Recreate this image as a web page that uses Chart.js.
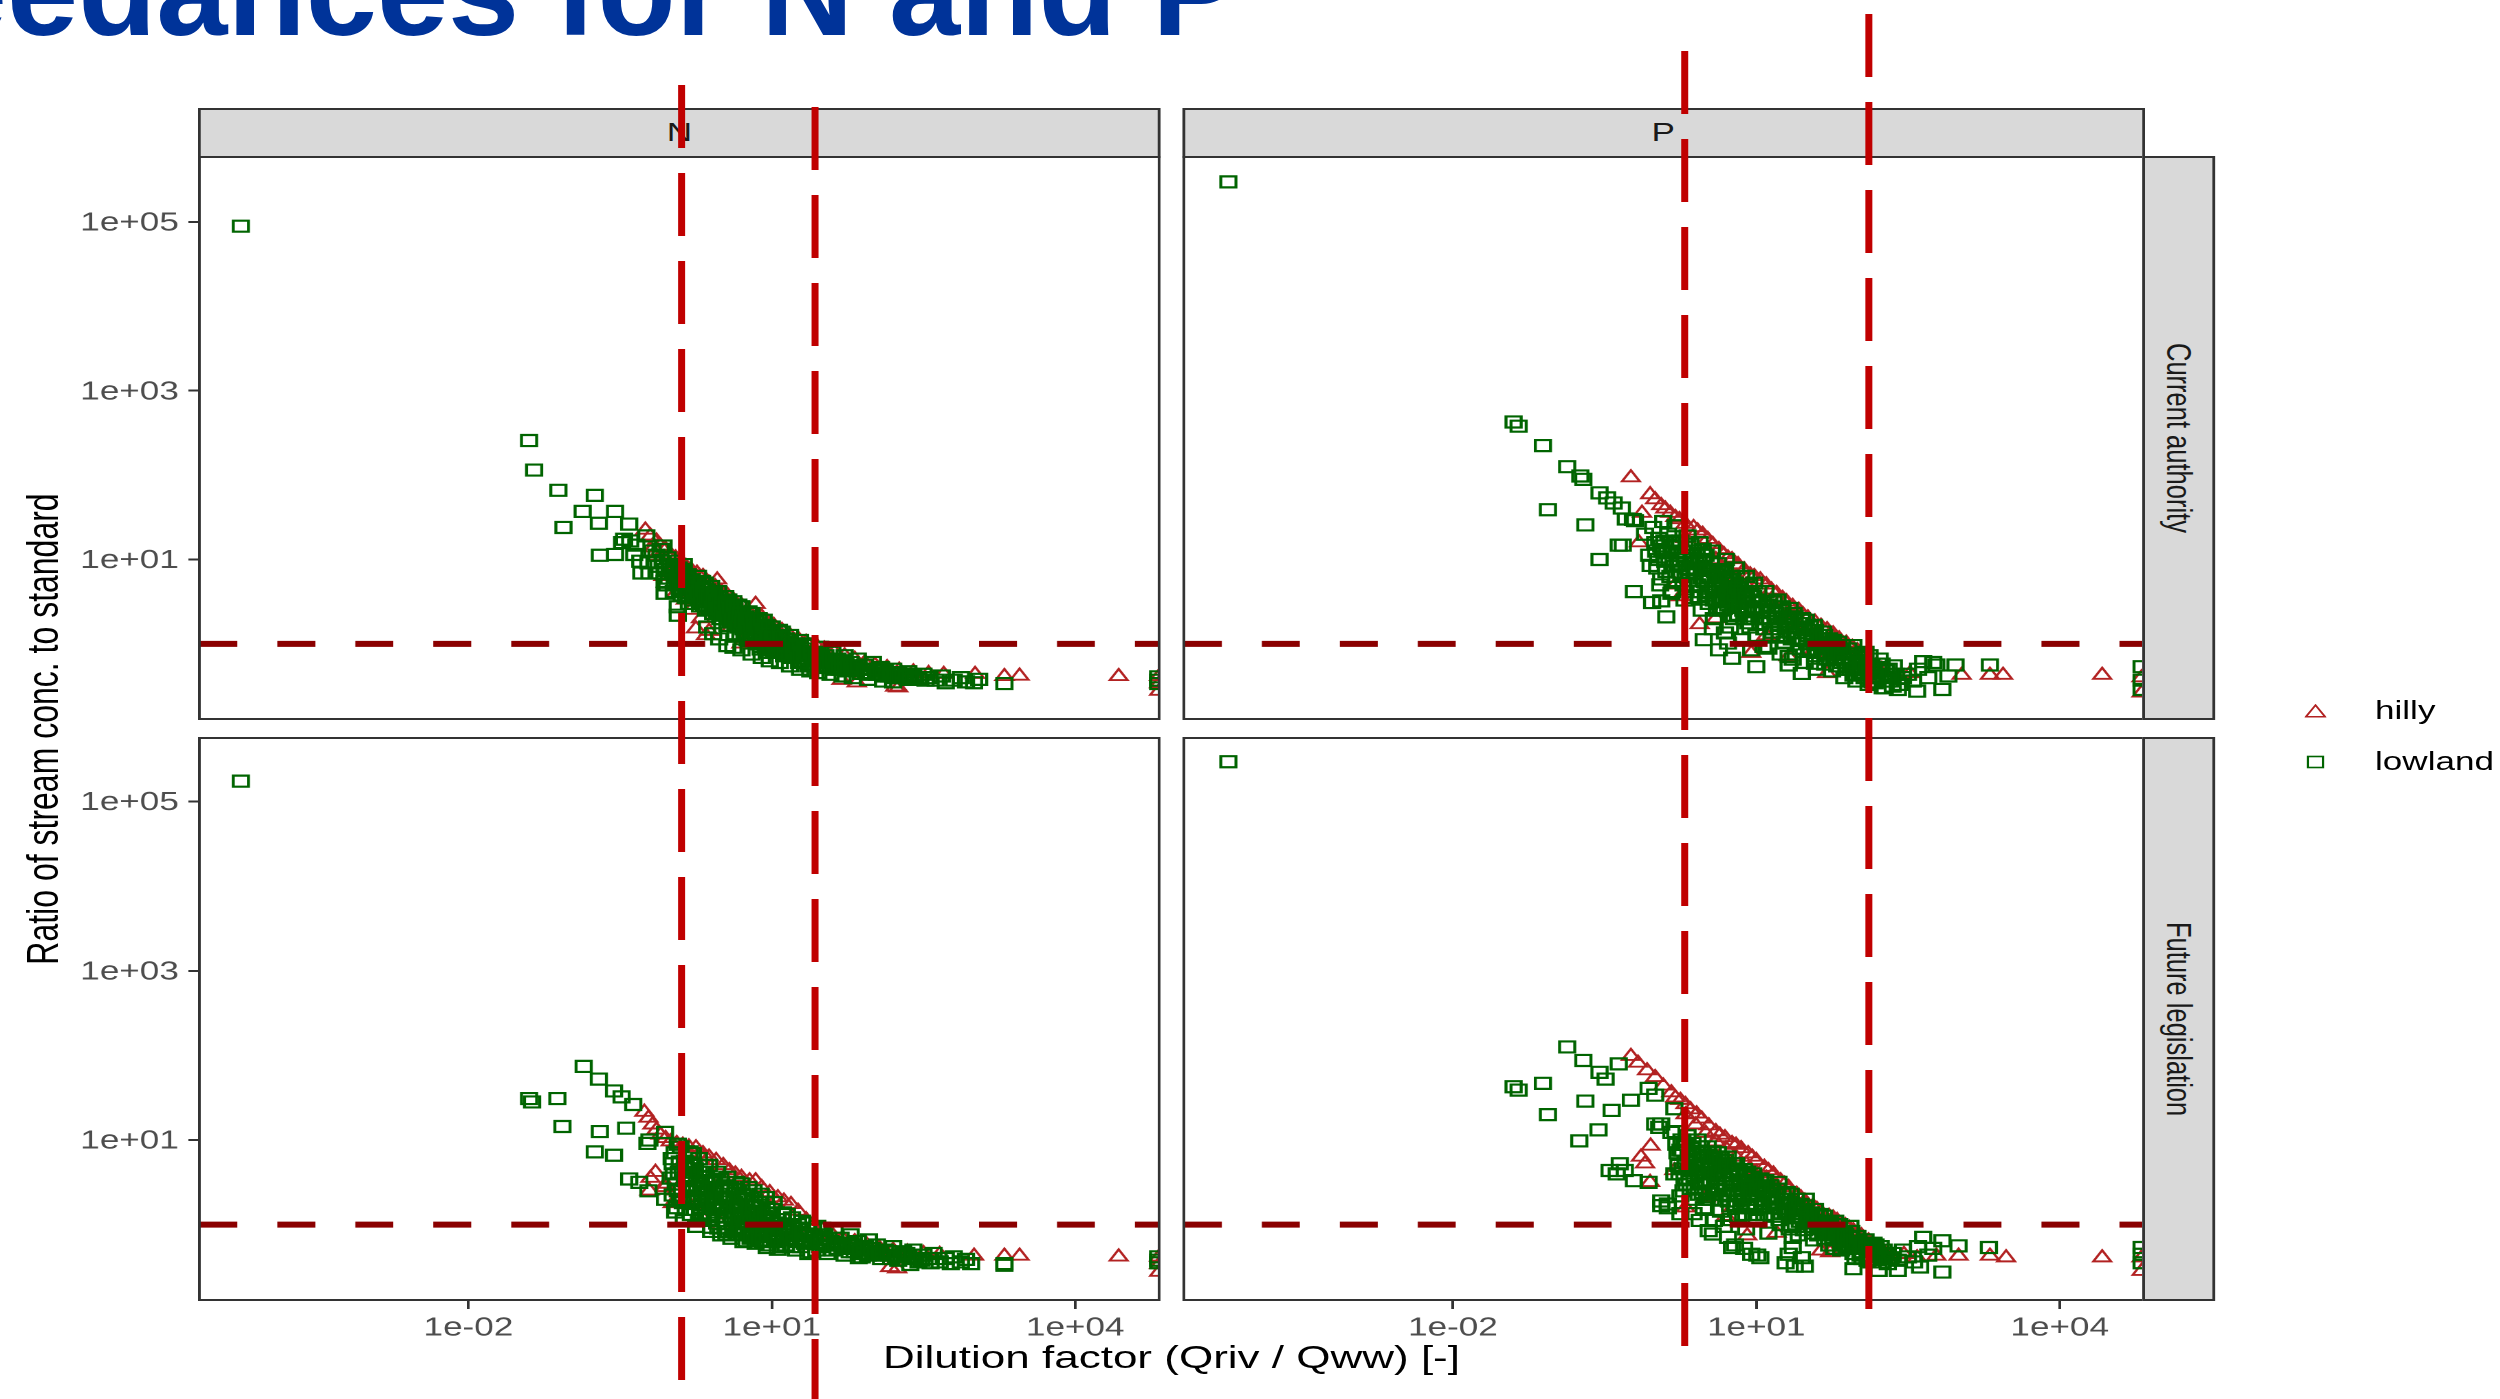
<!DOCTYPE html>
<html>
<head>
<meta charset="utf-8">
<script src="https://cdn.jsdelivr.net/npm/chart.js@4.4.1/dist/chart.umd.min.js"></script>
<style>
  html, body { margin: 0; padding: 0; background: #ffffff; }
  body { width: 2500px; height: 1399px; position: relative; overflow: hidden;
         font-family: "Liberation Sans", Arial, sans-serif; }
  #title { position: absolute; left: -292px; top: -73px; font-size: 128px; line-height: 1;
           font-weight: bold; color: #003399; white-space: nowrap; }
  /* the figure is laid out narrow and stretched sideways */
  #fig { position: absolute; left: 0; top: 0; width: 1819px; height: 1399px;
         transform: scaleX(1.375); transform-origin: 0 0; }
  #fig canvas { position: absolute; }
  .strip { position: absolute; box-sizing: border-box; background: #d9d9d9; border: 2px solid #333333;
           color: #1a1a1a; font-size: 25.5px; line-height: 1; display: flex;
           align-items: center; justify-content: center; white-space: nowrap; }
  .strip.side span { writing-mode: vertical-rl; }
  .axis-title { position: absolute; font-size: 32px; line-height: 1; color: #000000; white-space: nowrap; }
  #ytitle { left: 31px; top: 729px; transform: translate(-50%, -50%) rotate(-90deg); }
  #xtitle { left: 852px; top: 1341px; transform: translateX(-50%); }
  .legend-key { position: absolute; }
  .legend-text { position: absolute; font-size: 25.5px; line-height: 1; color: #000000; white-space: nowrap; }
  #marks { position: absolute; left: 0; top: 0; pointer-events: none; }
</style>
</head>
<body>
<div id="title">Exceedances for N and P</div>
<div id="fig">
  <div class="axis-title" id="ytitle">Ratio of stream conc. to standard</div>
  <div class="axis-title" id="xtitle">Dilution factor (Qriv / Qww) [-]</div>
</div>
<canvas id="marks" width="2500" height="1399"></canvas>
<script>
// ---- data -------------------------------------------------------------
const elements = ['N', 'P'];
const scenarios = ['Current authority', 'Future legislation'];
const regions = ['hilly', 'lowland'];

const xTickValues = [1e-2, 1e1, 1e4];
const xTickLabels = ['1e-02', '1e+01', '1e+04'];
const yTickValues = [1e1, 1e3, 1e5];
const yTickLabels = ['1e+01', '1e+03', '1e+05'];

// concentration equal to the standard
const standardRatio = 1;
// dilution factors marked with the red dashed verticals
const nLimits = [1.28, 26.7];
const pLimits = [1.98, 131];

// each pair is [log10 dilution factor, log10 ratio to standard]
const nCurrentLowland = [
  [-4.25,4.95],
  [-1.40,2.41],[-1.35,2.06],[-1.11,1.82],[-0.75,1.76],[-0.87,1.57],[-0.55,1.57],[-0.71,1.43],[-0.41,1.42],[-1.06,1.38],
  [-0.70,1.05],[-0.55,1.06],[-0.48,1.20],[-0.46,1.24],[-0.40,1.22],[-0.36,1.06],[-0.34,1.17],[-0.29,0.84],[-0.21,0.84],
  [-0.22,0.96],[-0.24,1.28],[-0.07,1.16],[-0.06,0.60],[0.07,0.44],[0.07,0.34],[0.56,-0.02],[-0.06,0.74],[-0.30,0.98],
  [-0.18,1.10],[-0.14,1.05],[-0.12,0.92],[-0.10,1.12],[-0.08,0.98],[-0.05,0.88],[-0.03,1.02],[-0.02,0.78],[0.00,0.94],
  [0.02,0.85],[0.04,0.72],[0.05,0.98],[0.08,0.90],[0.09,0.66],[0.10,0.80],[0.12,0.86],
  [0.14,0.74],[0.15,0.55],[0.17,0.82],[0.19,0.66],[0.21,0.76],[0.22,0.52],[0.24,0.70],[0.25,0.60],[0.27,0.80],[0.29,0.45],
  [0.30,0.66],[0.32,0.56],[0.34,0.72],[0.35,0.40],[0.37,0.60],[0.39,0.50],[0.40,0.68],[0.42,0.36],[0.44,0.55],[0.45,0.45],
  [0.47,0.62],[0.49,0.30],[0.50,0.50],[0.36,0.20],[0.42,0.12],[0.48,0.06],
  [0.52,0.40],[0.54,0.56],[0.56,0.22],[0.58,0.45],[0.60,0.34],[0.62,0.50],[0.64,0.12],[0.66,0.38],[0.68,0.28],[0.70,0.44],
  [0.72,0.18],[0.74,0.32],[0.76,0.05],[0.78,0.24],[0.80,0.36],[0.82,0.14],[0.84,0.26],[0.86,0.00],[0.88,0.18],[0.90,0.08],
  [0.92,0.28],[0.94,-0.04],[0.96,0.14],[0.98,0.04],[1.00,0.20],[0.62,-0.04],[0.70,-0.07],[0.80,-0.12],[0.90,-0.16],[0.98,-0.20],
  [1.02,-0.08],[1.04,0.10],[1.06,-0.10],[1.08,0.02],[1.10,0.14],[1.12,-0.14],[1.14,0.06],[1.16,-0.04],[1.18,0.10],[1.20,-0.16],
  [1.22,0.00],[1.25,-0.08],[1.28,0.04],[1.30,-0.20],[1.32,-0.06],[1.35,-0.14],[1.37,0.00],[1.40,-0.24],[1.42,-0.10],[1.45,-0.18],
  [1.48,-0.04],[1.08,-0.22],[1.18,-0.26],[1.28,-0.30],[1.38,-0.32],[1.46,-0.34],
  [1.50,-0.28],[1.53,-0.14],[1.56,-0.22],[1.60,-0.10],[1.62,-0.30],[1.65,-0.18],[1.68,-0.25],[1.72,-0.14],[1.75,-0.32],[1.78,-0.22],
  [1.82,-0.28],[1.85,-0.18],[1.88,-0.35],[1.92,-0.25],[1.96,-0.30],[2.00,-0.22],[1.58,-0.36],[1.70,-0.38],[1.80,-0.40],[1.95,-0.42],
  [2.04,-0.36],[2.08,-0.28],[2.12,-0.32],[2.16,-0.38],[2.20,-0.30],[2.25,-0.35],[2.30,-0.40],[2.35,-0.33],[2.40,-0.38],[2.45,-0.42],
  [2.50,-0.36],[2.56,-0.40],[2.62,-0.43],[2.68,-0.38],[2.72,-0.46],[2.80,-0.43],[2.87,-0.40],[2.92,-0.45],[3.00,-0.46],[3.05,-0.42],
  [2.10,-0.44],[2.20,-0.45],[3.30,-0.47],[4.82,-0.39],[4.82,-0.47],[4.82,-0.43],
  [-0.16,0.96],[-0.11,0.84],[-0.04,0.70],[0.03,0.62],[0.06,0.80],[0.11,0.58],[0.13,0.94],[0.16,0.68],[0.18,0.48],[0.23,0.62],
  [0.26,0.72],[0.28,0.52],[0.31,0.74],[0.33,0.46],[0.36,0.64],[0.38,0.42],[0.41,0.58],[0.43,0.48],[0.46,0.38],[0.48,0.55],
  [0.51,0.30],[0.53,0.46],[0.55,0.36],[0.57,0.52],[0.59,0.26],[0.61,0.42],[0.63,0.30],[0.65,0.22],[0.67,0.46],[0.69,0.10],
  [0.71,0.34],[0.73,0.24],[0.75,0.14],[0.77,0.38],[0.79,0.04],[0.81,0.26],[0.83,0.18],[0.85,0.08],[0.87,0.30],[0.89,-0.06],
  [0.91,0.18],[0.93,0.10],[0.95,0.22],[0.97,-0.10],[0.99,0.12],[1.03,0.02],[1.07,0.16],[1.11,-0.06],[1.15,-0.12],[1.19,-0.02],
  [1.23,-0.12],[1.27,-0.22],[1.31,-0.10],[1.36,-0.26],[1.41,-0.16],[1.47,-0.26],[1.52,-0.20],[1.58,-0.28],[1.64,-0.24],[1.70,-0.20],
  [1.76,-0.26],[1.83,-0.32],[1.90,-0.30],[1.98,-0.36],[2.06,-0.32],[2.14,-0.36],[2.22,-0.40],[2.32,-0.36],[2.42,-0.40],[2.52,-0.43],
  [-0.01,0.88],[0.04,0.92],[0.07,0.70],[0.10,0.88],[0.12,0.64],[0.15,0.78],[0.18,0.58],[0.20,0.72],[0.23,0.56],[0.26,0.66],
  [0.28,0.60],[0.31,0.50],[0.33,0.64],[0.36,0.52],[0.38,0.56],[0.41,0.44],[0.43,0.60],[0.46,0.50],[0.48,0.42],[0.51,0.46],
  [0.53,0.34],[0.55,0.48],[0.57,0.30],[0.59,0.40],[0.61,0.28],[0.63,0.44],[0.65,0.30],[0.67,0.20],[0.69,0.36],[0.71,0.26],
  [0.73,0.10],[0.75,0.28],[0.77,0.18],[0.79,0.30],[0.81,0.06],[0.83,0.22],[0.85,0.12],[0.87,0.22],[0.89,0.02],[0.91,0.12],
  [0.93,0.20],[0.95,0.00],[0.97,0.08],[0.99,-0.06],[1.01,0.08],[1.05,-0.02],[1.09,0.08],[1.13,-0.08],[1.17,0.02],[1.21,-0.10],
  [1.25,-0.04],[1.29,-0.14],[1.33,-0.02],[1.39,-0.10],[1.44,-0.12],[1.49,-0.16],[1.55,-0.26],[1.61,-0.18],[1.67,-0.30],[1.73,-0.24],
  [1.79,-0.30],[1.86,-0.26],[1.93,-0.34],[2.02,-0.30],[2.10,-0.38],[2.18,-0.34],[2.27,-0.38],[2.37,-0.42]
];
const nCurrentHilly = [
  [-0.25,1.35],[-0.20,1.28],[-0.17,1.14],[-0.14,1.22],[-0.14,1.04],[-0.10,1.16],[-0.07,0.80],[-0.05,1.12],[-0.01,0.82],
  [0.00,1.06],[0.05,1.02],[0.10,0.96],[0.15,0.92],[0.15,0.52],[0.20,0.88],[0.26,0.84],[0.32,0.80],[0.38,0.72],[0.38,0.15],
  [0.44,0.68],[0.46,0.76],[0.50,0.62],[0.56,0.58],[0.62,0.52],[0.70,0.46],[0.76,0.40],[0.84,0.47],[0.90,0.32],[0.96,0.26],
  [1.02,0.22],[1.10,0.16],[1.18,0.10],[1.26,0.06],[1.34,0.02],[1.44,-0.02],[1.52,-0.06],[1.62,-0.10],[1.72,-0.14],[1.82,-0.18],
  [1.92,-0.22],[2.02,-0.25],[2.14,-0.28],[2.26,-0.31],[2.40,-0.33],[2.55,-0.35],[2.70,-0.36],
  [0.05,0.60],[0.20,0.40],[0.30,0.30],[0.12,0.70],[0.40,0.50],[0.60,0.20],[0.80,0.10],[1.00,-0.05],[1.20,-0.12],[1.50,-0.20],
  [0.25,0.18],[0.35,0.10],[0.70,0.00],
  [1.69,-0.43],[1.84,-0.46],[2.22,-0.51],[2.25,-0.52],
  [3.01,-0.36],[3.30,-0.385],[3.45,-0.38],[4.43,-0.385],[4.83,-0.385],[4.83,-0.56],[4.83,-0.47]
];
const pCurrentLowland = [
  [-4.22,5.475],
  [-1.40,2.63],[-1.35,2.58],[-1.11,2.35],[-0.87,2.10],[-0.74,1.99],[-0.71,1.95],[-0.55,1.79],[-0.475,1.73],[-0.41,1.67],
  [-0.33,1.61],[-0.29,1.48],[-0.22,1.475],[-0.20,1.46],[-1.06,1.59],[-0.69,1.41],[-0.55,1.00],[-0.32,1.17],[-0.36,1.17],
  [-0.045,0.93],[0.06,0.77],[-0.21,0.62],[0.11,0.32],[-0.03,0.49],[0.06,0.51],[0.16,0.60],[0.00,1.20],[0.06,1.16],[0.12,1.08],
  [0.48,0.05],[0.63,-0.07],[0.76,-0.17],[1.00,-0.27],[1.32,-0.25],[1.45,-0.35],[0.69,0.13],[0.57,0.18],[0.72,0.01],[0.95,-0.07],
  [1.07,-0.03],[1.32,-0.15],[1.58,-0.23],
  [-0.10,1.30],[-0.06,1.05],[-0.02,1.38],[0.02,0.90],[0.04,1.25],[0.08,1.45],[0.10,0.98],[0.13,1.30],[0.15,0.80],[0.18,1.15],
  [0.20,1.40],[0.22,0.95],[0.25,1.22],[0.28,0.70],[0.30,1.05],
  [0.32,1.28],[0.34,0.85],[0.36,0.55],[0.38,1.10],[0.40,0.95],[0.42,0.70],[0.44,1.20],[0.46,0.40],[0.48,0.90],[0.50,1.05],
  [0.52,0.62],[0.54,0.80],[0.56,1.10],[0.58,0.30],[0.60,0.75],
  [0.62,0.95],[0.64,0.55],[0.66,0.85],[0.68,0.42],[0.70,1.00],[0.72,0.65],[0.74,0.20],[0.76,0.80],[0.78,0.50],[0.80,0.90],
  [0.82,0.35],[0.84,0.70],[0.86,0.05],[0.88,0.55],[0.90,0.80],[0.92,0.25],[0.94,0.62],[0.96,0.42],[0.98,0.72],[1.00,0.10],
  [1.03,0.50],[1.06,0.30],[1.09,0.62],[1.12,-0.05],[1.15,0.40],[1.18,0.18],[1.21,0.52],[1.24,-0.12],[1.27,0.30],[1.30,0.08],
  [1.33,0.42],[1.36,-0.18],[1.39,0.20],[1.42,0.00],[1.45,0.30],[1.48,-0.22],
  [1.51,0.10],[1.54,-0.08],[1.57,0.22],[1.60,-0.30],[1.63,0.00],[1.66,0.14],[1.69,-0.18],[1.72,0.06],[1.75,-0.32],[1.78,-0.08],
  [1.81,0.02],[1.84,-0.22],[1.87,-0.40],[1.90,-0.12],[1.93,-0.30],[1.96,-0.02],[1.99,-0.44],
  [2.02,-0.20],[2.05,-0.34],[2.08,-0.10],[2.11,-0.48],[2.14,-0.26],[2.18,-0.38],[2.22,-0.18],[2.25,-0.52],[2.28,-0.32],[2.32,-0.44],
  [2.36,-0.26],[2.40,-0.48],
  [1.96,-0.37],[2.15,-0.45],[2.27,-0.52],[2.40,-0.54],[2.59,-0.56],[2.84,-0.54],[2.45,-0.40],[2.50,-0.36],[2.55,-0.44],[2.60,-0.30],
  [2.65,-0.21],[2.70,-0.40],[2.75,-0.22],[2.78,-0.25],[2.90,-0.38],[2.97,-0.25],[3.31,-0.25],[4.81,-0.27],[4.81,-0.43],[4.81,-0.54],
  [0.01,1.10],[0.05,0.70],[0.09,1.22],[0.14,1.00],[0.17,0.62],[0.21,1.20],[0.24,0.85],[0.27,1.10],[0.29,0.52],[0.31,0.90],
  [0.35,1.18],[0.37,0.70],[0.39,0.84],[0.43,0.98],[0.45,0.62],[0.47,1.12],[0.49,0.74],[0.51,0.88],[0.53,0.48],[0.55,0.96],
  [0.57,0.66],[0.59,0.86],[0.61,0.50],[0.63,0.78],[0.65,0.40],[0.67,0.68],[0.69,0.88],[0.71,0.55],[0.73,0.76],[0.75,0.34],
  [0.77,0.64],[0.79,0.72],[0.81,0.48],[0.83,0.58],[0.85,0.80],[0.87,0.40],[0.89,0.62],[0.91,0.50],[0.93,0.70],[0.95,0.30],
  [0.97,0.56],[0.99,0.40],[1.02,0.62],[1.05,0.40],[1.08,0.18],[1.11,0.46],[1.14,0.26],[1.17,0.50],[1.20,0.32],[1.23,0.10],
  [1.26,0.40],[1.29,0.20],[1.32,0.30],[1.35,0.06],[1.38,0.32],[1.41,0.14],[1.44,-0.06],[1.47,0.18],[1.50,0.00],[1.53,0.20],
  [1.56,0.04],[1.59,-0.14],[1.62,0.10],[1.65,-0.04],[1.68,-0.24],[1.71,-0.06],[1.74,0.00],[1.77,-0.16],[1.80,-0.26],[1.83,-0.06],
  [1.86,-0.18],[1.89,-0.30],[1.92,-0.12],[1.95,-0.24],[1.98,-0.36],[2.01,-0.28],[2.04,-0.16],[2.07,-0.40],[2.10,-0.24],[2.13,-0.34],
  [2.17,-0.46],[2.21,-0.28],[2.26,-0.40],[2.31,-0.30],[2.35,-0.50],[2.38,-0.36],[2.43,-0.48],
  [0.03,1.00],[0.07,1.10],[0.11,0.86],[0.16,1.20],[0.19,0.92],[0.23,1.05],[0.26,0.80],[0.29,1.00],[0.33,0.75],[0.36,1.02],
  [0.38,0.62],[0.41,0.88],[0.43,0.56],[0.46,0.78],[0.48,1.00],[0.50,0.58],[0.52,0.80],[0.54,0.62],[0.56,0.88],[0.58,0.52],
  [0.60,0.68],[0.62,0.40],[0.64,0.70],[0.66,0.50],[0.68,0.78],[0.70,0.62],[0.72,0.46],[0.74,0.66],[0.76,0.52],[0.78,0.30],
  [0.80,0.58],[0.82,0.66],[0.84,0.44],[0.86,0.62],[0.88,0.30],[0.90,0.54],[0.92,0.44],[0.94,0.20],[0.96,0.50],[0.98,0.30],
  [1.01,0.52],[1.04,0.24],[1.07,0.44],[1.10,0.30],[1.13,0.50],[1.16,0.14],[1.19,0.36],[1.22,0.22],[1.25,0.44],[1.28,0.02],
  [1.31,0.26],[1.34,0.14],[1.37,0.36],[1.40,0.06],[1.43,0.24],[1.46,0.04],[1.49,0.28],[1.52,-0.06],[1.55,0.12],[1.58,0.16],
  [1.61,-0.10],[1.64,0.06],[1.67,0.10],[1.70,-0.12],[1.73,-0.02],[1.76,0.04],[1.79,-0.18],[1.82,-0.10],[1.85,-0.02],[1.88,-0.22],
  [1.91,-0.06],[1.94,-0.16],[1.97,-0.30],[2.00,-0.12],[2.03,-0.36],[2.06,-0.22],[2.09,-0.30],[2.12,-0.14],[2.16,-0.30],[2.20,-0.40],
  [2.24,-0.24],[2.29,-0.44],[2.33,-0.36]
];
const pCurrentHilly = [
  [-0.24,1.97],[-0.05,1.77],[0.00,1.71],[0.06,1.64],[-0.13,1.55],[-0.16,1.20],[0.24,1.475],[0.38,1.38],[0.47,1.30],[0.63,1.12],
  [0.76,1.00],[0.88,0.88],[1.04,0.76],[1.20,0.60],[1.36,0.445],[1.51,0.31],[1.70,0.17],[1.89,0.01],
  [0.10,1.60],[0.15,1.55],[0.20,1.50],[0.30,1.42],[0.42,1.34],[0.52,1.24],[0.57,1.18],[0.68,1.06],[0.72,1.02],[0.82,0.94],
  [0.94,0.82],[0.98,0.80],[1.10,0.70],[1.15,0.64],[1.26,0.54],[1.30,0.50],[1.42,0.40],[1.46,0.35],[1.58,0.26],[1.64,0.21],
  [1.76,0.12],[1.82,0.06],[1.95,-0.04],[2.00,-0.08],[2.06,-0.14],[2.12,-0.20],[2.18,-0.26],[2.24,-0.30],
  [0.30,1.25],[0.50,1.10],[0.70,0.90],[0.90,0.70],[1.10,0.52],[1.30,0.35],[1.50,0.18],[1.70,0.02],[1.90,-0.12],[0.60,1.00],
  [0.80,0.80],[1.00,0.60],[1.20,0.42],[1.40,0.24],[1.60,0.08],[1.80,-0.06],[2.00,-0.22],
  [0.44,0.23],[0.25,0.56],[0.95,-0.11],[1.32,-0.15],[1.70,-0.35],[2.21,-0.31],[0.20,0.70],[0.60,0.30],[1.10,0.10],[1.55,-0.10],
  [2.30,-0.40],[2.10,-0.42],
  [2.52,-0.35],[3.03,-0.37],[3.31,-0.37],[3.44,-0.37],[4.42,-0.37],[4.81,-0.40],[4.81,-0.58]
];
const nFutureLowland = [
  [-4.25,5.24],
  [-1.40,1.49],[-1.37,1.45],[-1.12,1.49],[-0.86,1.87],[-0.71,1.72],[-0.56,1.58],[-0.485,1.51],[-0.37,1.42],[-1.07,1.16],
  [-0.70,1.10],[-0.44,1.14],[-0.75,0.86],[-0.56,0.82],[-0.41,0.54],[-0.31,0.50],[-0.22,0.40],[-0.056,1.09],[-0.23,0.96],[-0.21,1.00],
  [0.02,0.72],[-0.056,0.30],[0.045,0.15],[0.07,0.95],[0.22,0.84],[0.15,0.68],[0.30,0.48],[0.35,0.32],[0.50,0.20],[0.40,-0.03],
  [0.55,-0.11],[0.75,-0.19],[0.95,-0.27],[1.06,-0.29],[1.36,-0.34],[1.86,-0.39],[2.37,-0.47],
  [0.00,0.55],[0.02,0.35],[0.04,0.85],[0.06,0.20],[0.08,0.62],[0.10,0.92],[0.11,0.40],[0.13,0.05],[0.14,0.75],[0.16,0.28],
  [0.18,0.55],[0.19,0.86],[0.20,0.12],[0.22,0.45],[0.24,0.66],[0.25,-0.02],[0.27,0.30],[0.28,0.78],[0.30,0.50],
  [0.32,0.08],[0.33,0.62],[0.35,0.20],[0.36,0.40],[0.38,0.70],[0.40,-0.08],[0.41,0.30],[0.43,0.52],[0.45,0.10],[0.46,0.62],
  [0.48,0.36],[0.50,-0.12],[0.51,0.22],[0.53,0.46],[0.55,0.02],[0.56,0.56],[0.58,0.30],[0.60,-0.16],
  [0.62,0.14],[0.64,0.42],[0.66,-0.04],[0.68,0.24],[0.70,0.48],[0.72,-0.20],[0.74,0.08],[0.76,0.34],[0.78,-0.10],[0.80,0.16],
  [0.82,0.40],[0.84,-0.22],[0.86,0.02],[0.88,0.26],[0.90,-0.12],[0.92,0.10],[0.94,0.32],[0.96,-0.24],[0.98,-0.02],[1.00,0.18],
  [1.03,-0.14],[1.06,0.06],[1.09,-0.26],[1.12,-0.06],[1.15,0.12],[1.18,-0.18],[1.21,-0.02],[1.24,-0.30],[1.27,-0.10],[1.30,0.04],
  [1.33,-0.22],[1.36,-0.06],[1.39,-0.32],[1.42,-0.14],[1.45,-0.02],[1.48,-0.26],
  [1.52,-0.12],[1.55,-0.34],[1.58,-0.20],[1.62,-0.08],[1.65,-0.28],[1.68,-0.16],[1.72,-0.36],[1.75,-0.22],[1.78,-0.12],[1.82,-0.32],
  [1.85,-0.20],[1.89,-0.38],[1.92,-0.26],[1.96,-0.18],[2.00,-0.34],
  [2.04,-0.24],[2.08,-0.40],[2.12,-0.30],[2.16,-0.36],[2.20,-0.26],[2.25,-0.42],[2.30,-0.32],[2.35,-0.38],[2.40,-0.30],[2.45,-0.44],
  [2.50,-0.36],[2.55,-0.40],[2.60,-0.34],[2.66,-0.44],[2.72,-0.40],[2.80,-0.38],[2.87,-0.44],[2.92,-0.41],
  [2.57,-0.45],[2.77,-0.46],[2.97,-0.46],[3.30,-0.46],[3.30,-0.48],[4.82,-0.38],[4.82,-0.45],[4.82,-0.42],
  [0.01,0.78],[0.05,0.48],[0.09,0.30],[0.12,0.62],[0.15,0.18],[0.17,0.42],[0.21,0.70],[0.23,0.28],[0.26,0.52],[0.29,0.14],
  [0.31,0.36],[0.34,0.70],[0.37,0.06],[0.39,0.50],[0.42,0.20],[0.44,0.40],[0.47,-0.04],[0.49,0.54],[0.52,0.10],[0.54,0.32],
  [0.57,-0.08],[0.59,0.44],[0.61,0.02],[0.63,0.26],[0.65,0.50],[0.67,-0.12],[0.69,0.12],[0.71,0.36],[0.73,-0.06],[0.75,0.22],
  [0.77,0.44],[0.79,-0.16],[0.81,0.06],[0.83,0.28],[0.85,-0.08],[0.87,0.14],[0.89,0.36],[0.91,-0.20],[0.93,0.00],[0.95,0.20],
  [0.97,-0.12],[0.99,0.08],[1.02,0.26],[1.05,-0.20],[1.08,-0.04],[1.11,0.14],[1.14,-0.24],[1.17,-0.08],[1.20,0.08],[1.23,-0.16],
  [1.26,0.00],[1.29,-0.26],[1.32,-0.12],[1.35,0.02],[1.38,-0.20],[1.41,-0.06],[1.44,-0.30],[1.47,-0.16],[1.50,-0.04],[1.54,-0.24],
  [1.60,-0.30],[1.66,-0.22],[1.74,-0.28],[1.80,-0.24],[1.88,-0.30],[1.95,-0.36],[2.03,-0.32],[2.10,-0.36],[2.18,-0.40],[2.28,-0.36],
  [2.38,-0.40],[2.48,-0.42],
  [0.03,0.60],[0.07,0.40],[0.09,0.74],[0.12,0.26],[0.14,0.52],[0.17,0.66],[0.19,0.34],[0.21,0.56],[0.24,0.18],[0.26,0.40],
  [0.28,0.62],[0.31,0.24],[0.33,0.44],[0.35,0.56],[0.37,0.28],[0.39,0.12],[0.42,0.42],[0.44,0.26],[0.46,0.02],[0.48,0.18],
  [0.50,0.44],[0.52,0.32],[0.54,-0.04],[0.56,0.14],[0.58,0.40],[0.60,0.22],[0.62,-0.06],[0.64,0.10],[0.66,0.32],[0.68,0.04],
  [0.70,0.20],[0.72,-0.12],[0.74,0.30],[0.76,0.04],[0.78,0.16],[0.80,-0.14],[0.82,0.22],[0.84,-0.02],[0.86,0.12],[0.88,-0.18],
  [0.90,0.20],[0.92,-0.06],[0.94,0.08],[0.96,-0.14],[0.98,0.14],[1.01,-0.10],[1.04,0.02],[1.07,-0.18],[1.10,0.06],[1.13,-0.12],
  [1.16,-0.02],[1.19,-0.26],[1.22,-0.08],[1.25,-0.20],[1.28,-0.04],[1.31,-0.18],[1.37,-0.12],[1.43,-0.22],[1.49,-0.18],[1.56,-0.16],
  [1.63,-0.24],[1.70,-0.26],[1.77,-0.32],[1.84,-0.28],[1.91,-0.34],[1.99,-0.28],[2.07,-0.34],[2.15,-0.32],[2.24,-0.38],[2.33,-0.34]
];
const nFutureHilly = [
  [-0.26,1.33],[-0.22,1.26],[-0.18,1.18],[-0.14,1.12],[-0.10,1.06],[-0.05,1.02],[0.00,0.98],[0.06,0.96],[0.12,0.94],[0.18,0.92],
  [0.25,0.91],[0.32,0.84],[0.38,0.80],[0.45,0.76],[0.52,0.70],[0.58,0.64],[0.64,0.60],[0.70,0.56],[0.78,0.52],[0.84,0.52],
  [0.90,0.44],[0.98,0.38],[1.06,0.32],[1.12,0.28],[1.19,0.24],[1.26,0.16],[1.34,0.06],[1.41,-0.03],[1.50,-0.06],[1.60,-0.12],
  [1.70,-0.16],[1.82,-0.20],[1.94,-0.24],[2.06,-0.27],[2.20,-0.30],[2.34,-0.32],[2.50,-0.34],[2.66,-0.35],
  [-0.15,0.62],[-0.05,0.48],[-0.20,0.55],[0.05,0.40],[0.15,0.30],[0.30,0.10],[0.50,0.00],[0.65,0.20],[0.80,-0.05],[1.00,0.00],
  [1.20,-0.20],[1.45,-0.25],[0.10,0.70],[0.40,0.50],[-0.21,0.40],[-0.06,0.44],[0.02,0.25],
  [2.17,-0.505],[2.24,-0.52],
  [3.00,-0.37],[3.30,-0.37],[3.45,-0.37],[4.43,-0.38],[4.83,-0.38],[4.83,-0.56],[4.83,-0.47]
];
const pFutureLowland = [
  [-4.22,5.47],
  [-0.87,2.10],[-0.71,1.94],[-0.55,1.80],[-0.49,1.72],[-1.40,1.63],[-1.35,1.59],[-1.11,1.67],[-0.36,1.90],[-0.065,1.61],
  [0.00,1.53],[-0.69,1.46],[-0.24,1.47],[-0.43,1.35],[-1.06,1.30],[-0.56,1.12],[-0.75,0.99],[-0.35,0.72],[-0.30,0.64],[-0.21,0.52],
  [-0.065,0.50],[-0.45,0.64],[-0.38,0.60],[0.19,1.37],[0.06,1.19],[0.00,1.19],[0.04,1.15],[0.16,1.09],[0.19,0.60],
  [0.125,0.245],[0.06,0.225],[0.25,0.34],[0.38,0.13],[0.06,0.28],[0.125,0.20],[0.25,0.13],[0.44,0.05],[0.53,-0.07],[0.57,-0.11],
  [0.72,-0.15],[0.76,-0.27],[0.79,-0.24],[0.88,-0.28],[0.95,-0.35],[1.01,-0.36],[1.04,-0.39],[1.29,-0.45],[1.32,-0.35],[1.38,-0.49],
  [1.45,-0.39],[1.48,-0.49],[1.36,-0.15],[1.36,-0.27],
  [0.20,1.10],[0.22,0.85],[0.24,0.60],[0.26,1.00],[0.28,0.40],[0.30,0.75],[0.32,1.05],[0.34,0.55],[0.36,0.90],[0.38,0.30],
  [0.40,0.70],[0.42,1.00],[0.44,0.48],[0.46,0.85],[0.48,0.20],[0.50,0.62],[0.52,0.92],[0.54,0.40],[0.56,0.75],[0.58,0.05],
  [0.60,0.55],
  [0.62,0.85],[0.64,0.30],[0.66,0.68],[0.68,-0.02],[0.70,0.48],[0.72,0.80],[0.74,0.22],[0.76,0.62],[0.78,0.40],[0.80,0.72],
  [0.82,0.10],[0.84,0.52],[0.86,0.30],[0.88,0.65],[0.90,-0.05],[0.92,0.44],[0.94,0.20],[0.96,0.56],[0.98,0.34],[1.00,0.05],
  [1.03,0.45],[1.06,0.22],[1.09,0.52],[1.12,-0.10],[1.15,0.32],[1.18,0.10],[1.21,0.42],[1.24,0.00],[1.27,0.25],[1.30,0.38],
  [1.33,-0.05],[1.36,0.18],[1.39,0.30],[1.42,-0.12],[1.45,0.08],[1.48,0.22],
  [1.51,-0.02],[1.54,0.14],[1.57,-0.18],[1.60,0.04],[1.63,0.12],[1.66,-0.10],[1.69,0.02],[1.72,-0.24],[1.75,-0.06],[1.78,0.04],
  [1.81,-0.16],[1.84,-0.30],[1.87,-0.08],[1.90,-0.20],[1.93,-0.02],[1.96,-0.34],[1.99,-0.14],
  [2.02,-0.26],[2.05,-0.40],[2.08,-0.18],[2.11,-0.32],[2.14,-0.44],[2.18,-0.24],[2.22,-0.38],[2.26,-0.30],[2.30,-0.46],[2.35,-0.34],
  [2.40,-0.42],[2.45,-0.30],[2.50,-0.38],[2.56,-0.44],[2.60,-0.26],[2.70,-0.36],[2.75,-0.28],
  [1.96,-0.52],[2.21,-0.54],[2.40,-0.54],[2.62,-0.50],[2.84,-0.56],[2.65,-0.15],[2.84,-0.19],[3.00,-0.25],[3.30,-0.27],[2.27,-0.35],
  [2.33,-0.39],[4.81,-0.27],[4.81,-0.35],[4.81,-0.45],
  [0.21,0.95],[0.23,0.70],[0.27,0.88],[0.29,0.55],[0.31,0.95],[0.33,0.66],[0.35,0.42],[0.37,0.80],[0.39,0.58],[0.41,0.86],
  [0.43,0.36],[0.45,0.70],[0.47,0.52],[0.49,0.80],[0.51,0.30],[0.53,0.66],[0.55,0.50],[0.57,0.86],[0.59,0.36],[0.61,0.70],
  [0.63,0.45],[0.65,0.16],[0.67,0.58],[0.69,0.76],[0.71,0.34],[0.73,0.62],[0.75,0.06],[0.77,0.50],[0.79,0.66],[0.81,0.28],
  [0.83,0.58],[0.85,0.42],[0.87,0.12],[0.89,0.50],[0.91,0.62],[0.93,0.30],[0.95,0.46],[0.97,0.12],[0.99,0.50],[1.02,0.30],
  [1.05,0.40],[1.08,0.12],[1.11,0.34],[1.14,0.46],[1.17,0.20],[1.20,0.30],[1.23,0.06],[1.26,0.36],[1.29,0.14],[1.32,0.26],
  [1.35,0.00],[1.38,0.20],[1.41,0.10],[1.44,0.24],[1.47,-0.06],[1.50,0.12],[1.53,0.02],[1.56,-0.10],[1.59,0.10],[1.62,-0.04],
  [1.65,0.04],[1.68,-0.16],[1.71,-0.02],[1.74,-0.12],[1.77,-0.28],[1.80,-0.04],[1.83,-0.18],[1.86,-0.10],[1.89,-0.26],[1.92,-0.14],
  [1.95,-0.24],[1.98,-0.40],[2.01,-0.20],[2.04,-0.32],[2.07,-0.26],[2.10,-0.42],[2.13,-0.30],[2.16,-0.22],[2.20,-0.36],[2.24,-0.44],
  [2.28,-0.34],[2.32,-0.40],
  [0.25,0.88],[0.27,0.66],[0.29,0.95],[0.31,0.48],[0.33,0.82],[0.35,0.64],[0.37,0.96],[0.39,0.44],[0.41,0.76],[0.43,0.60],
  [0.45,0.92],[0.47,0.38],[0.49,0.68],[0.51,0.52],[0.53,0.82],[0.55,0.30],[0.57,0.60],[0.59,0.78],[0.61,0.40],[0.63,0.62],
  [0.65,0.80],[0.67,0.36],[0.69,0.54],[0.71,0.70],[0.73,0.28],[0.75,0.48],[0.77,0.72],[0.79,0.24],[0.81,0.46],[0.83,0.64],
  [0.85,0.20],[0.87,0.40],[0.89,0.58],[0.91,0.22],[0.93,0.52],[0.95,0.36],[0.97,0.60],[0.99,0.24],[1.01,0.42],[1.04,0.54],
  [1.07,0.28],[1.10,0.44],[1.13,0.20],[1.16,0.40],[1.19,0.26],[1.22,0.50],[1.25,0.14],[1.28,0.30],[1.31,0.16],[1.34,0.36],
  [1.37,0.08],[1.40,0.22],[1.43,0.04],[1.46,0.16],[1.49,0.30],[1.52,0.06],[1.55,-0.02],[1.58,0.18],[1.61,-0.12],[1.64,0.00],
  [1.67,0.10],[1.70,-0.08],[1.73,0.02],[1.76,-0.18],[1.79,-0.10],[1.82,0.00],[1.85,-0.24],[1.88,-0.12],[1.91,-0.28],[1.94,-0.08],
  [1.97,-0.22],[2.00,-0.14],[2.03,-0.36],[2.06,-0.22],[2.09,-0.28],[2.12,-0.38],[2.15,-0.28],[2.19,-0.32],[2.23,-0.26],[2.27,-0.40]
];
const pFutureHilly = [
  [-0.24,1.99],[-0.17,1.91],[-0.08,1.82],[0.00,1.74],[0.08,1.64],[0.25,1.47],[0.41,1.31],[0.53,1.17],[0.69,1.03],[0.85,0.90],
  [1.00,0.76],[1.17,0.60],[1.32,0.44],[1.48,0.28],[1.64,0.15],[1.80,0.05],[1.96,-0.07],[2.11,-0.19],
  [0.16,1.56],[0.20,1.50],[0.30,1.42],[0.35,1.36],[0.46,1.25],[0.60,1.10],[0.64,1.06],[0.76,0.96],[0.80,0.94],[0.92,0.84],
  [0.96,0.80],[1.08,0.68],[1.12,0.64],[1.24,0.52],[1.28,0.48],[1.40,0.36],[1.44,0.32],[1.56,0.22],[1.60,0.18],[1.72,0.10],
  [1.76,0.08],[1.88,-0.01],[1.92,-0.04],[2.04,-0.13],[2.18,-0.25],[2.25,-0.30],
  [0.30,1.30],[0.50,1.08],[0.70,0.90],[0.90,0.72],[1.10,0.55],[1.30,0.36],[1.50,0.18],[1.70,0.02],[1.90,-0.12],[0.40,1.18],
  [0.60,0.98],[0.80,0.80],[1.00,0.62],[1.20,0.46],[1.40,0.26],[1.60,0.08],[1.80,-0.06],
  [-0.14,0.80],[-0.10,0.72],[-0.05,0.50],[-0.045,0.93],[0.19,0.64],[0.50,0.32],[0.91,-0.13],[1.64,-0.31],[1.73,-0.33],[0.30,0.20],
  [0.70,0.10],[1.20,-0.10],[2.00,-0.30],[2.30,-0.38],
  [2.46,-0.35],[2.59,-0.39],[2.78,-0.37],[3.00,-0.37],[3.31,-0.37],[3.47,-0.39],[4.42,-0.39],[4.81,-0.39],[4.81,-0.55]
];

// ---- layout and style ---------------------------------------------------
const COL_LEFT = [145.1, 860.7];    // panel left edges inside #fig
const ROW_TOP = [157, 738];         // panel top edges
const PANEL_W = 698, PANEL_H = 562;
const AXIS_W = 145, AXIS_H = 70, PAD_T = 4, PAD_R = 6;
const X_LOG_RANGE = [-4.66, 4.83];
const Y_LOG_RANGE = [[-0.89, 5.77], [-0.89, 5.75]];
const STRIP_TOP = 108, STRIP_H = 50, SIDE_STRIP_W = 53;
const COLORS = { hilly: '#b22222', lowland: '#006400', hline: '#8b0000', marker: '#c00000',
                 frame: '#333333', tick: '#4d4d4d' };
const MARK_TOPS = [[85, 107], [51, 14]]; // page y where each red dashed vertical begins
const MARK_LEN = 1296;

Chart.defaults.font.family = '"Liberation Sans", Arial, sans-serif';

const fig = document.getElementById('fig');
const toPoints = pairs => pairs.map(([lx, ly]) => ({ x: Math.pow(10, lx), y: Math.pow(10, ly) }));

// dashed reference line at the standard, then the panel frame on top
const panelFrame = {
  id: 'panelFrame',
  afterDatasetsDraw(chart) {
    const { ctx, chartArea: a, scales } = chart;
    const yy = scales.y.getPixelForValue(standardRatio);
    ctx.save();
    ctx.beginPath();
    ctx.rect(a.left, a.top, a.right - a.left, a.bottom - a.top);
    ctx.clip();
    ctx.strokeStyle = COLORS.hline;
    ctx.lineWidth = 6;
    ctx.lineCap = 'butt';
    ctx.setLineDash([27.6, 29.1]);
    ctx.beginPath();
    ctx.moveTo(a.left, yy);
    ctx.lineTo(a.right, yy);
    ctx.stroke();
    ctx.restore();
    ctx.save();
    ctx.strokeStyle = COLORS.frame;
    ctx.lineWidth = 2;
    ctx.strokeRect(a.left, a.top, a.right - a.left, a.bottom - a.top);
    ctx.restore();
  }
};

const noScalePadding = s => { s.paddingTop = 0; s.paddingBottom = 0; s.paddingLeft = 0; s.paddingRight = 0; };

function makePanel(row, col, lowland, hilly) {
  const cv = document.createElement('canvas');
  cv.width = AXIS_W + PANEL_W + PAD_R;
  cv.height = PAD_T + PANEL_H + AXIS_H;
  cv.style.left = (COL_LEFT[col] - AXIS_W) + 'px';
  cv.style.top = (ROW_TOP[row] - PAD_T) + 'px';
  fig.appendChild(cv);
  const showX = row === 1, showY = col === 0;
  return new Chart(cv, {
    type: 'scatter',
    data: {
      datasets: [
        { label: regions[1], data: toPoints(lowland), pointStyle: 'rect', pointRadius: 7.8,
          pointBorderColor: COLORS.lowland, pointBackgroundColor: 'rgba(0,0,0,0)', pointBorderWidth: 2.2,
          clip: 0 },
        { label: regions[0], data: toPoints(hilly), pointStyle: 'triangle', pointRadius: 7.4,
          pointBorderColor: COLORS.hilly, pointBackgroundColor: 'rgba(0,0,0,0)', pointBorderWidth: 1.9,
          clip: 0 }
      ]
    },
    options: {
      responsive: false,
      animation: false,
      devicePixelRatio: 2,
      events: [],
      layout: { padding: { top: PAD_T, right: PAD_R, left: 0, bottom: 0 }, autoPadding: false },
      plugins: { legend: { display: false }, tooltip: { enabled: false } },
      scales: {
        x: {
          type: 'logarithmic', position: 'bottom', bounds: 'data',
          min: Math.pow(10, X_LOG_RANGE[0]), max: Math.pow(10, X_LOG_RANGE[1]),
          afterBuildTicks: s => { s.ticks = xTickValues.map(v => ({ value: v })); },
          afterFit: s => { s.height = AXIS_H; noScalePadding(s); },
          border: { display: false },
          grid: { display: showX, drawOnChartArea: false, drawTicks: true, tickLength: 9,
                  tickWidth: 2, tickColor: COLORS.frame },
          ticks: { display: showX, autoSkip: false, maxRotation: 0, minRotation: 0, padding: 4,
                   color: COLORS.tick, font: { size: 25.5 },
                   callback: (v, i) => xTickLabels[i] }
        },
        y: {
          type: 'logarithmic', position: 'left', bounds: 'data',
          min: Math.pow(10, Y_LOG_RANGE[row][0]), max: Math.pow(10, Y_LOG_RANGE[row][1]),
          afterBuildTicks: s => { s.ticks = yTickValues.map(v => ({ value: v })); },
          afterFit: s => { s.width = AXIS_W; noScalePadding(s); },
          border: { display: false },
          grid: { display: showY, drawOnChartArea: false, drawTicks: true, tickLength: 8,
                  tickWidth: 2, tickColor: COLORS.frame },
          ticks: { display: showY, autoSkip: false, padding: 7, labelOffset: 1.5,
                   color: COLORS.tick, font: { size: 25.5 },
                   callback: (v, i) => yTickLabels[i] }
        }
      }
    },
    plugins: [panelFrame]
  });
}

const charts = [
  [makePanel(0, 0, nCurrentLowland, nCurrentHilly), makePanel(0, 1, pCurrentLowland, pCurrentHilly)],
  [makePanel(1, 0, nFutureLowland, nFutureHilly), makePanel(1, 1, pFutureLowland, pFutureHilly)]
];

// facet strips
elements.forEach((name, col) => {
  const d = document.createElement('div');
  d.className = 'strip';
  d.style.left = (COL_LEFT[col] - 1) + 'px';
  d.style.top = STRIP_TOP + 'px';
  d.style.width = (PANEL_W + 2) + 'px';
  d.style.height = STRIP_H + 'px';
  d.textContent = name;
  fig.appendChild(d);
});
scenarios.forEach((name, row) => {
  const d = document.createElement('div');
  d.className = 'strip side';
  d.style.left = (COL_LEFT[1] + PANEL_W - 1) + 'px';
  d.style.top = (ROW_TOP[row] - 1) + 'px';
  d.style.width = SIDE_STRIP_W + 'px';
  d.style.height = (PANEL_H + 2) + 'px';
  const s = document.createElement('span');
  s.textContent = name;
  d.appendChild(s);
  fig.appendChild(d);
});

// legend
const LEGEND_KEY_X = 1684.4, LEGEND_TEXT_X = 1727.3, LEGEND_ROW_Y = [711, 761.5];
regions.forEach((name, i) => {
  const key = document.createElement('div');
  key.className = 'legend-key';
  const cy = LEGEND_ROW_Y[i];
  if (name === 'hilly') {
    key.style.left = (LEGEND_KEY_X - 8) + 'px';
    key.style.top = (cy - 7) + 'px';
    key.innerHTML = '<svg width="16" height="14" viewBox="0 0 16 14"><polygon points="8,1.2 15,12.8 1,12.8" fill="none" stroke="' +
      COLORS.hilly + '" stroke-width="1.5"/></svg>';
  } else {
    key.style.left = (LEGEND_KEY_X - 7) + 'px';
    key.style.top = (cy - 7) + 'px';
    key.innerHTML = '<svg width="14" height="14" viewBox="0 0 14 14"><rect x="1.5" y="1.5" width="11" height="11" fill="none" stroke="' +
      COLORS.lowland + '" stroke-width="1.6"/></svg>';
  }
  fig.appendChild(key);
  const t = document.createElement('div');
  t.className = 'legend-text';
  t.style.left = LEGEND_TEXT_X + 'px';
  t.style.top = (cy - 12.75) + 'px';
  t.textContent = name;
  fig.appendChild(t);
});

// red dashed verticals at the marked dilution factors, placed through each column's x scale
const mk = document.getElementById('marks').getContext('2d');
mk.strokeStyle = COLORS.marker;
mk.lineWidth = 7;
mk.lineCap = 'butt';
mk.setLineDash([63, 25]);
[nLimits, pLimits].forEach((limits, col) => {
  const chart = charts[0][col];
  const r = chart.canvas.getBoundingClientRect();
  const k = r.width / chart.width;
  limits.forEach((v, i) => {
    const x = r.left + chart.scales.x.getPixelForValue(v) * k;
    const top = MARK_TOPS[col][i];
    mk.beginPath();
    mk.moveTo(x, top);
    mk.lineTo(x, top + MARK_LEN);
    mk.stroke();
  });
});
</script>
</body>
</html>
